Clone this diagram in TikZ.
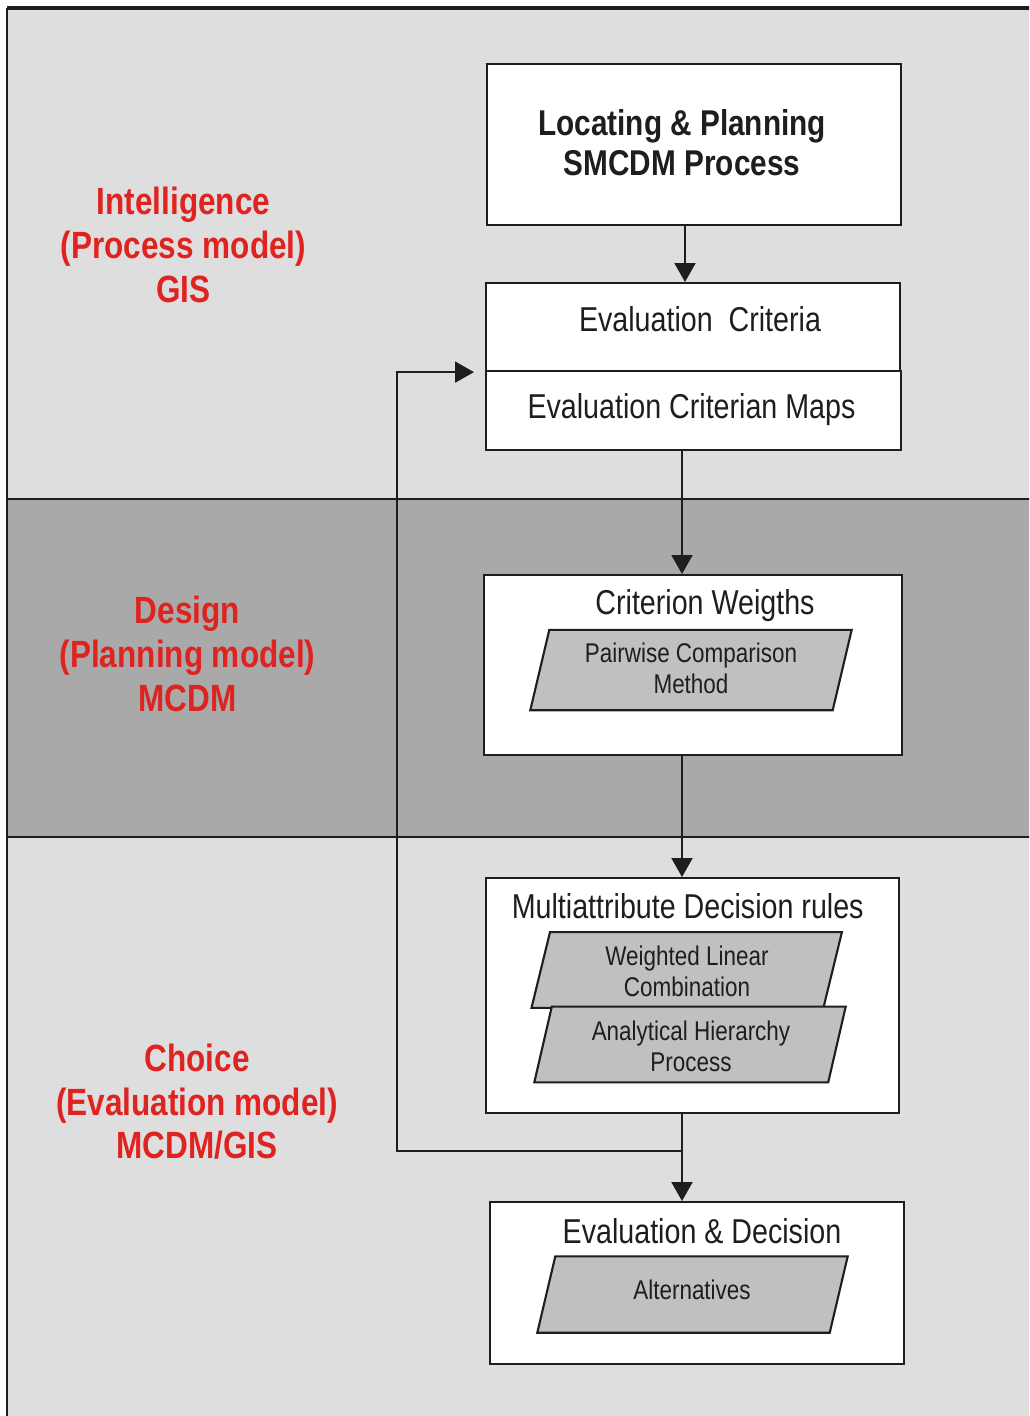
\documentclass[tikz,border=0pt]{standalone}
\usepackage{fontspec}
\setmainfont[FakeStretch=0.83]{Liberation Sans}
\usetikzlibrary{arrows.meta}
\definecolor{bandlight}{RGB}{222,222,222}
\definecolor{banddark}{RGB}{169,169,169}
\definecolor{parafill}{RGB}{192,192,192}
\definecolor{labelred}{RGB}{222,35,32}
\definecolor{ink}{RGB}{30,30,30}
\begin{document}
\begin{tikzpicture}[x=0.1mm,y=-0.1mm,
  box/.style={draw=ink, fill=white, line width=0.6pt, inner sep=0pt, anchor=north west},
  pbox/.style={draw=none, fill=none, inner sep=0pt},
  pline/.style={draw=ink, fill=parafill, line width=0.6pt, line join=miter},
  ptext/.style={align=center, text=ink, inner sep=0pt, font=\fontsize{7.7pt}{8.9pt}\selectfont},
  boxtitle/.style={anchor=base, text=ink, inner sep=0pt, font=\fontsize{9.82pt}{11pt}\selectfont},
  phase/.style={align=center, text=labelred, inner sep=0pt,
    font=\fontsize{10.8pt}{12.4pt}\selectfont\bfseries},
  conn/.style={draw=ink, line width=0.6pt},
  arr/.style={conn, -{Triangle[length=1.9mm,width=2.1mm]}}
]
\useasboundingbox (0,0) rectangle (1029,1416);
\clip (0,0) rectangle (1029,1416);
\fill[white] (0,0) rectangle (1029,1416);
% bands
\fill[bandlight] (7,8) rectangle (1040,499);
\fill[banddark] (7,499) rectangle (1040,837);
\fill[bandlight] (7,837) rectangle (1040,1430);
\draw[draw=ink, line width=0.6pt] (7,1430) -- (7,8);
\draw[draw=ink, line width=0.9pt] (7,8) -- (1040,8);
\draw[draw=ink, line width=0.6pt] (7,499) -- (1040,499);
\draw[draw=ink, line width=0.6pt] (7,837) -- (1040,837);

% phase labels
\node[phase] (ph1) at (183.5,245) {Intelligence\\(Process model)\\GIS};
\node[phase] (ph2) at (187.5,654) {Design\\(Planning model)\\MCDM};
\node[phase] (ph3) at (197,1102) {Choice\\(Evaluation model)\\MCDM/GIS};

% boxes
\node[box, minimum width=41.4mm, minimum height=16.1mm] (b1) at (486,63) {};
\node[box, minimum width=41.4mm, minimum height=8.8mm] (b2a) at (485,282) {};
\node[box, minimum width=41.5mm, minimum height=7.9mm] (b2b) at (485,370) {};
\node[box, minimum width=41.8mm, minimum height=18.0mm] (b3) at (483,574) {};
\node[box, minimum width=41.3mm, minimum height=23.5mm] (b4) at (485,877) {};
\node[box, minimum width=41.4mm, minimum height=16.2mm] (b5) at (489,1201) {};

% box texts
\node[align=center, inner sep=0pt, text=ink, font=\fontsize{10.2pt}{11.3pt}\selectfont\bfseries]
  (t1) at (682,143) {Locating \& Planning\\SMCDM Process};
\node[boxtitle] (t2a) at (700,331) {Evaluation~~Criteria};
\node[boxtitle] (t2b) at (691.5,418) {Evaluation Criterian Maps};
\node[boxtitle] (t3) at (705,614.5) {Criterion Weigths};
\node[boxtitle] (t4) at (687.7,918.3) {Multiattribute Decision rules};
\node[boxtitle] (t5) at (702,1243) {Evaluation \& Decision};

% parallelograms
\node[pbox, minimum width=32mm, minimum height=7.9mm] (p1) at (691,670) {};
\filldraw[pline] ([xshift=1.9mm]p1.north west) -- (p1.north east)
  -- ([xshift=-1.9mm]p1.south east) -- (p1.south west) -- cycle;
\node[ptext] (p1t) at (691,668) {Pairwise Comparison\\Method};

\node[pbox, minimum width=30.9mm, minimum height=7.43mm] (p2) at (686.7,970) {};
\filldraw[pline] ([xshift=1.85mm]p2.north west) -- (p2.north east)
  -- ([xshift=-1.85mm]p2.south east) -- (p2.south west) -- cycle;
\node[ptext] (p2t) at (687,971.5) {Weighted Linear\\Combination};

\node[pbox, minimum width=31.0mm, minimum height=7.44mm] (p3) at (690,1044.5) {};
\filldraw[pline] ([xshift=1.75mm]p3.north west) -- (p3.north east)
  -- ([xshift=-1.75mm]p3.south east) -- (p3.south west) -- cycle;
\node[ptext] (p3t) at (691,1046) {Analytical Hierarchy\\Process};

\node[pbox, minimum width=30.9mm, minimum height=7.5mm] (p4) at (692.5,1294.5) {};
\filldraw[pline] ([xshift=1.8mm]p4.north west) -- (p4.north east)
  -- ([xshift=-1.8mm]p4.south east) -- (p4.south west) -- cycle;
\node[ptext] (p4t) at (692,1290) {Alternatives};

% connectors
\coordinate (xa) at (685,0);
\coordinate (xb) at (682,0);
\coordinate (fb) at (397,1151);
\draw[arr] (b1.south -| xa) -- (b2a.north -| xa);
\draw[arr] (b2b.south -| xb) -- (b3.north -| xb);
\draw[arr] (b3.south -| xb) -- (b4.north -| xb);
\draw[arr] (b4.south -| xb) -- (b5.north -| xb);
\draw[arr] (xb |- fb) -- (fb) |- ([xshift=-1.1mm]b2a.south west);
\end{tikzpicture}
\end{document}
